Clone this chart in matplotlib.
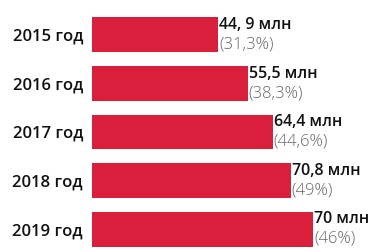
import matplotlib
matplotlib.use('Agg')
import matplotlib.pyplot as plt

years = ['2015 год', '2016 год', '2017 год', '2018 год', '2019 год']
# bar lengths as drawn in the picture (in млн)
bar_len = [44.9, 55.5, 64.4, 70.8, 78.8]
value_labels = ['44, 9 млн', '55,5 млн', '64,4 млн', '70,8 млн', '70 млн']
pct_labels = ['(31,3%)', '(38,3%)', '(44,6%)', '(49%)', '(46%)']

RED = '#d91f3b'
plt.rcParams['font.family'] = ['Open Sans', 'DejaVu Sans']

fig = plt.figure(figsize=(3.78, 2.52), dpi=100)
ax = fig.add_axes([92 / 378, 0, 286 / 378, 1])

pos = list(range(len(years)))
ax.barh(pos, bar_len, height=0.72, color=RED)

for i, (w, v, p) in enumerate(zip(bar_len, value_labels, pct_labels)):
    ax.text(w + 0.4, i - 0.2, v, va='center', ha='left', fontsize=11.5,
            fontweight='semibold', color='#111111')
    ax.text(w + 0.4, i + 0.2, p, va='center', ha='left', fontsize=12,
            fontweight='light', color='#666666')

ax.set_yticks(pos)
ax.set_yticklabels(years, fontsize=12, fontweight='semibold', color='#111111')
ax.tick_params(axis='y', length=0, pad=6.5)
ax.set_xticks([])
for s in ax.spines.values():
    s.set_visible(False)

ax.set_xlim(0, 286 / 2.805)
ax.set_ylim(4.469, -0.716)

plt.savefig('out.png', dpi=100)
plt.close()
